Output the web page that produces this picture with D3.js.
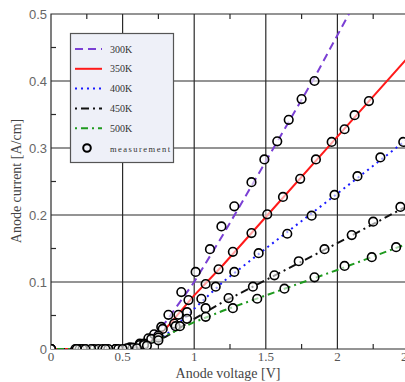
<!DOCTYPE html>
<html>
<head>
<meta charset="utf-8">
<script src="https://cdn.jsdelivr.net/npm/d3@7"></script>
<style>
  body { margin: 0; background: #fff; }
  svg { display: block; }
</style>
</head>
<body>
<script>
// simulated curves (voltage V, current A/cm)
const simV300 = [0, 0.5, 0.6, 0.7, 0.8, 0.9, 1.0, 1.2, 1.5, 1.84, 2.08, 2.2]
const simI300 = [0, 0, 0.005, 0.018, 0.04, 0.07, 0.1, 0.17, 0.28, 0.405, 0.5, 0.545]
const simV350 = [0, 0.5, 0.6, 0.7, 0.8, 0.9, 1.0, 1.2, 1.5, 2.0, 2.5]
const simI350 = [0, 0, 0.002, 0.012, 0.03, 0.055, 0.08, 0.125, 0.197, 0.317, 0.437]
const simV400 = [0, 0.5, 0.6, 0.8, 1.0, 1.2, 1.5, 2.0, 2.5]
const simI400 = [0, 0, 0.002, 0.02, 0.06, 0.1, 0.15, 0.232, 0.315]
const simV450 = [0, 0.5, 0.6, 0.8, 1.0, 1.2, 1.5, 2.0, 2.5]
const simI450 = [0, 0, 0.002, 0.018, 0.045, 0.07, 0.103, 0.158, 0.215]
const simV500 = [0, 0.5, 0.7, 0.9, 1.0, 1.2, 1.5, 2.0, 2.5]
const simI500 = [0, 0, 0.01, 0.03, 0.04, 0.057, 0.08, 0.118, 0.158]

// measurements
const meaV300 = [0, 0.17, 0.3, 0.45, 0.55, 0.62, 0.68, 0.72, 0.77, 0.82, 0.91, 1.01, 1.11, 1.19, 1.28, 1.40, 1.49, 1.58, 1.66, 1.75, 1.84]
const meaI300 = [0, 0, 0, 0, 0.002, 0.008, 0.016, 0.022, 0.033, 0.051, 0.085, 0.115, 0.149, 0.183, 0.213, 0.249, 0.283, 0.31, 0.342, 0.373, 0.40]
const meaV350 = [0, 0.2, 0.33, 0.45, 0.55, 0.62, 0.7, 0.78, 0.89, 0.96, 1.08, 1.17, 1.27, 1.40, 1.51, 1.62, 1.74, 1.85, 1.96, 2.05, 2.12, 2.22]
const meaI350 = [0, 0, 0, 0, 0.002, 0.006, 0.015, 0.03, 0.051, 0.073, 0.097, 0.119, 0.145, 0.173, 0.201, 0.227, 0.254, 0.283, 0.309, 0.328, 0.349, 0.37]
const meaV400 = [0, 0.22, 0.36, 0.47, 0.57, 0.65, 0.75, 0.86, 0.95, 1.05, 1.15, 1.28, 1.45, 1.65, 1.82, 1.98, 2.14, 2.30, 2.46]
const meaI400 = [0, 0, 0, 0, 0.002, 0.008, 0.02, 0.038, 0.055, 0.075, 0.093, 0.115, 0.143, 0.172, 0.199, 0.23, 0.258, 0.286, 0.309]
const meaV450 = [0, 0.18, 0.28, 0.4, 0.53, 0.65, 0.75, 0.87, 0.95, 1.08, 1.24, 1.41, 1.56, 1.73, 1.91, 2.10, 2.25, 2.44]
const meaI450 = [0, 0, 0, 0, 0.001, 0.006, 0.017, 0.034, 0.045, 0.061, 0.076, 0.093, 0.11, 0.131, 0.149, 0.17, 0.19, 0.212]
const meaV500 = [0, 0.24, 0.38, 0.5, 0.6, 0.67, 0.75, 0.9, 1.08, 1.27, 1.44, 1.63, 1.84, 2.05, 2.24, 2.41]
const meaI500 = [0, 0, 0, 0, 0.001, 0.005, 0.013, 0.034, 0.048, 0.061, 0.075, 0.09, 0.107, 0.124, 0.137, 0.152]

const xTicks = [0, 0.5, 1, 1.5, 2, 2.5]
const xTickLabels = ['0', '0.5', '1', '1.5', '2', '2.5']
const yTicks = [0, 0.1, 0.2, 0.3, 0.4, 0.5]
const yTickLabels = ['0', '0.1', '0.2', '0.3', '0.4', '0.5']
const legendLabels = ['300K', '350K', '400K', '450K', '500K', 'measurement']

const zip = (xs, ys) => xs.map((x, i) => [x, ys[i]])

const series = [
  {name: '300K', sim: zip(simV300, simI300), mea: zip(meaV300, meaI300), color: '#7a3fd4', dash: '8,5'},
  {name: '350K', sim: zip(simV350, simI350), mea: zip(meaV350, meaI350), color: '#ff1a1a', dash: null},
  {name: '400K', sim: zip(simV400, simI400), mea: zip(meaV400, meaI400), color: '#1a1aff', dash: '2,4'},
  {name: '450K', sim: zip(simV450, simI450), mea: zip(meaV450, meaI450), color: '#111', dash: '2,4,8,4'},
  {name: '500K', sim: zip(simV500, simI500), mea: zip(meaV500, meaI500), color: '#1f9a1f', dash: '2,4,7,4'},
]

const width = 405
const height = 382

const svg = d3.select('body').append('svg')
  .attr('viewBox', `0 0 ${width} ${height}`)
  .attr('width', width)
  .attr('height', height)

const x = d3.scaleLinear().domain([0, 2.5]).range([51, 409])
const y = d3.scaleLinear().domain([0, 0.5]).range([349, 14])

svg.append('defs').append('clipPath').attr('id', 'plot')
  .append('rect')
    .attr('x', x(0)).attr('y', y(0.5))
    .attr('width', x(2.5) - x(0)).attr('height', y(0) - y(0.5))

// grid
const grid = svg.append('g').attr('stroke', '#2a2a2a').attr('stroke-width', 1.2)
grid.selectAll('.gx').data(xTicks.slice(1, -1)).join('line')
  .attr('x1', d => x(d)).attr('x2', d => x(d)).attr('y1', y(0)).attr('y2', y(0.5))
grid.selectAll('.gy').data(yTicks.slice(1, -1)).join('line')
  .attr('x1', x(0)).attr('x2', x(2.5)).attr('y1', d => y(d)).attr('y2', d => y(d))

// minor ticks, inward
const minorX = d3.range(0.25, 2.5, 0.5)
const minorY = d3.range(0.05, 0.5, 0.1)
grid.selectAll('.mb').data(minorX).join('line')
  .attr('x1', d => x(d)).attr('x2', d => x(d)).attr('y1', y(0)).attr('y2', y(0) - 5)
grid.selectAll('.mt').data(minorX).join('line')
  .attr('x1', d => x(d)).attr('x2', d => x(d)).attr('y1', y(0.5)).attr('y2', y(0.5) + 5)
grid.selectAll('.ml').data(minorY).join('line')
  .attr('x1', x(0)).attr('x2', x(0) + 5).attr('y1', d => y(d)).attr('y2', d => y(d))

// frame
grid.append('path')
  .attr('fill', 'none')
  .attr('d', `M${x(2.5)},${y(0.5)}H${x(0)}V${y(0)}H${x(2.5)}`)

// tick labels
svg.append('g')
    .attr('font-family', '"Liberation Serif", "DejaVu Serif", serif')
    .attr('font-size', 13).attr('fill', '#555').attr('text-anchor', 'middle')
  .selectAll('text').data(xTicks).join('text')
    .attr('x', d => x(d)).attr('y', 361)
    .text((d, i) => xTickLabels[i])

svg.append('g')
    .attr('font-family', '"Liberation Sans", Arial, sans-serif')
    .attr('font-size', 13).attr('fill', '#666').attr('text-anchor', 'end')
  .selectAll('text').data(yTicks).join('text')
    .attr('x', 47).attr('y', d => y(d) + 5)
    .text((d, i) => yTickLabels[i])

// axis titles
svg.append('text')
  .attr('x', 228).attr('y', 378)
  .attr('text-anchor', 'middle')
  .attr('font-family', '"Liberation Serif", "DejaVu Serif", serif')
  .attr('font-size', 14).attr('fill', '#444')
  .text('Anode voltage [V]')

svg.append('text')
  .attr('transform', 'translate(21,181) rotate(-90)')
  .attr('text-anchor', 'middle')
  .attr('font-family', '"Liberation Serif", "DejaVu Serif", serif')
  .attr('font-size', 14).attr('fill', '#444')
  .text('Anode current [A/cm]')

// curves
const line = d3.line().x(d => x(d[0])).y(d => y(d[1]))
const plot = svg.append('g').attr('clip-path', 'url(#plot)')

plot.selectAll('path.sim').data(series).join('path')
  .attr('class', 'sim')
  .attr('fill', 'none')
  .attr('stroke', d => d.color)
  .attr('stroke-width', 2)
  .attr('stroke-dasharray', d => d.dash)
  .attr('d', d => line(d.sim))

plot.append('g')
    .attr('fill', '#fff').attr('fill-opacity', 0.6)
    .attr('stroke', '#000').attr('stroke-width', 1.6)
  .selectAll('circle')
  .data(series.flatMap(s => s.mea))
  .join('circle')
    .attr('cx', d => x(d[0]))
    .attr('cy', d => y(d[1]))
    .attr('r', 4.3)

// legend
const legend = svg.append('g')
legend.append('rect')
  .attr('x', 70.5).attr('y', 33.5).attr('width', 103).attr('height', 129)
  .attr('fill', '#eef0f8').attr('stroke', '#555').attr('stroke-width', 1.2)

const rowY = d3.scalePoint().domain(legendLabels).range([49, 148])

legend.selectAll('line').data(series).join('line')
  .attr('x1', 75).attr('x2', 102)
  .attr('y1', d => rowY(d.name)).attr('y2', d => rowY(d.name))
  .attr('stroke', d => d.color).attr('stroke-width', 2)
  .attr('stroke-dasharray', d => d.dash)

legend.append('circle')
  .attr('cx', 87).attr('cy', rowY('measurement')).attr('r', 3.8)
  .attr('fill', 'none').attr('stroke', '#000').attr('stroke-width', 2)

legend.selectAll('text').data(legendLabels).join('text')
  .attr('x', 110).attr('y', d => rowY(d) + 3.5)
  .attr('font-family', '"Liberation Serif", "DejaVu Serif", serif')
  .attr('font-size', d => d == 'measurement' ? 8.5 : 10)
  .attr('fill', '#333')
  .attr('textLength', d => d == 'measurement' ? 60 : null)
  .text(d => d)
</script>
</body>
</html>
